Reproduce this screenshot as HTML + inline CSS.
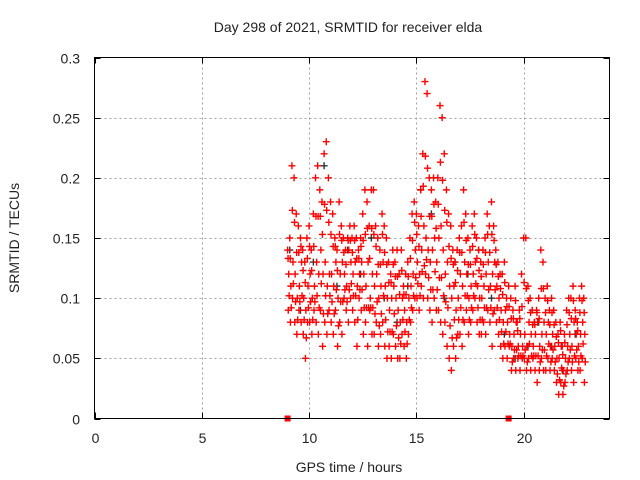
<!DOCTYPE html>
<html><head><meta charset="utf-8"><style>
html,body{margin:0;padding:0;background:#fff;}
svg{display:block;font-family:"Liberation Sans",sans-serif;}
</style></head><body>
<svg id="chart" width="640" height="480" xmlns="http://www.w3.org/2000/svg">
<rect width="640" height="480" fill="#fff"/>
<text x="348" y="32" font-size="14" text-anchor="middle" fill="#222">Day 298 of 2021, SRMTID for receiver elda</text>
<text x="349" y="472" font-size="14" text-anchor="middle" fill="#222">GPS time / hours</text>
<text transform="translate(19,238) rotate(-90)" font-size="14" text-anchor="middle" fill="#222">SRMTID / TECUs</text>
<g id="grid"></g><g id="ticks"></g><g id="marks"></g>
<rect x="94.5" y="57.5" width="515" height="361" fill="none" stroke="#000" stroke-width="1"/>
</svg>
<script>
const xTicks=[0,5,10,15,20];
const yTicks=[0,0.05,0.1,0.15,0.2,0.25,0.3];
const yTickLabels=["0","0.05","0.1","0.15","0.2","0.25","0.3"];
const times=[9.0,9.1,9.2,9.3,9.4,9.5,9.6,9.7,9.8,9.9,10.0,10.1,10.2,10.3,10.4,10.5,10.6,10.7,10.8,10.9,11.0,11.1,11.2,11.3,11.4,11.5,11.6,11.7,11.8,11.9,12.0,12.1,12.2,12.3,12.4,12.5,12.6,12.7,12.8,12.9,13.0,13.1,13.2,13.3,13.4,13.5,13.6,13.7,13.8,13.9,14.0,14.1,14.2,14.3,14.4,14.5,14.6,14.7,14.8,14.9,15.0,15.1,15.2,15.3,15.4,15.5,15.6,15.7,15.8,15.9,16.0,16.1,16.2,16.3,16.4,16.5,16.6,16.7,16.8,16.9,17.0,17.1,17.2,17.3,17.4,17.5,17.6,17.7,17.8,17.9,18.0,18.1,18.2,18.3,18.4,18.5,18.6,18.7,18.8,18.9,19.0,19.1,19.2,19.3,19.4,19.5,19.6,19.7,19.8,19.9,20.0,20.1,20.2,20.3,20.4,20.5,20.6,20.7,20.8,20.9,21.0,21.1,21.2,21.3,21.4,21.5,21.6,21.7,21.8,21.9,22.0,22.1,22.2,22.3,22.4,22.5,22.6,22.7,22.8];
const srmtidHigh=[.14,.15,.21,.2,.17,.16,.15,.14,.13,.15, .16,.14,.17,.2,.21,.19,.18,.22,.23,.2, .18,.17,.15,.14,.18,.16,.15,.14,.15,.16, .15,.16,.15,.14,.15,.17,.19,.18,.16,.19, .19,.16,.15,.14,.17,.16,.15,.13,.12,.14, .13,.14,.12,.14,.11,.12,.13,.15,.17,.18, .17,.16,.19,.22,.28,.27,.2,.19,.2,.18, .2,.26,.25,.22,.19,.17,.16,.14,.13,.14, .15,.16,.19,.17,.15,.14,.16,.17,.15,.14, .13,.14,.15,.17,.16,.18,.16,.14,.13,.12, .12,.13,.1,.11,.1,.09,.11,.08,.09,.12, .15,.15,.11,.1,.09,.08,.09,.1,.14,.13, .1,.11,.09,.1,.09,.08,.07,.08,.06,.07, .09,.1,.1,.11,.09,.08,.1,.11,.1];
const srmtidMid=[.12,.11,.13,.12,.1,.11,.13,.1,.09,.11, .12,.1,.11,.13,.12,.14,.12,.13,.11,.12, .12,.11,.13,.1,.12,.13,.12,.11,.14,.13, .12,.13,.11,.12,.13,.12,.11,.13,.1,.12, .11,.12,.1,.11,.13,.11,.1,.09,.1,.11, .1,.09,.08,.1,.09,.08,.1,.11,.12,.14, .13,.12,.14,.16,.15,.14,.13,.14,.15,.13, .15,.16,.14,.12,.13,.11,.1,.11,.09,.1, .12,.11,.13,.12,.1,.11,.12,.13,.11,.1, .1,.11,.12,.13,.11,.12,.13,.11,.1,.09, .08,.09,.08,.07,.06,.07,.08,.06,.07,.06, .07,.06,.08,.07,.06,.07,.08,.06,.07,.08, .07,.08,.06,.07,.06,.05,.05,.06,.04,.05, .06,.07,.06,.08,.07,.06,.07,.08,.07];
const srmtidLow=[.09,.08,.1,.08,.07,.09,.08,.07,.05,.08, .08,.07,.09,.08,.07,.09,.06,.08,.07,.09, .08,.07,.09,.06,.08,.07,.1,.09,.08,.1, .09,.08,.06,.1,.09,.07,.08,.06,.09,.07, .07,.08,.06,.07,.08,.06,.05,.06,.05,.07, .06,.05,.05,.07,.06,.05,.07,.08,.09,.1, .1,.09,.11,.1,.12,.1,.09,.08,.1,.09, .09,.08,.07,.08,.06,.05,.04,.06,.05,.07, .07,.06,.08,.09,.07,.08,.09,.1,.08,.07, .07,.08,.07,.09,.08,.06,.09,.08,.07,.06, .05,.06,.05,.06,.04,.05,.04,.05,.04,.05, .05,.04,.05,.04,.05,.04,.03,.04,.05,.04, .04,.05,.04,.05,.04,.03,.02,.03,.02,.03, .04,.05,.04,.03,.05,.04,.04,.05,.03];
const grayTimes=[9.1,9.6,10.2,10.7,11.3,11.8,12.4,12.9,13.5,14.1,14.6,15.2,15.7,16.3,16.8,17.4,17.9,18.5,19.1,19.6,20.2,20.7,21.3,21.8,22.4];
const grayValues=[.14,.09,.13,.21,.11,.14,.12,.15,.1,.08,.11,.19,.17,.1,.13,.12,.14,.1,.07,.05,.06,.08,.06,.04,.07];
const gapTimes=[9.0,19.3];

const X0=94.5,X1=609.5,Y0=418.5,Y1=57.5;
const xs=v=>X0+(v/24)*(X1-X0);
const ys=v=>Y0-(v/0.3)*(Y0-Y1);
const NS="http://www.w3.org/2000/svg";
function mk(tag,attrs,parent){const e=document.createElementNS(NS,tag);for(const k in attrs)e.setAttribute(k,attrs[k]);parent.appendChild(e);return e;}
const grid=document.getElementById('grid'),ticks=document.getElementById('ticks'),marks=document.getElementById('marks');
xTicks.forEach(t=>{const x=Math.round(xs(t))+0.5;
 if(t>0){const g=mk('line',{x1:x,x2:x,y1:Y1,y2:Y0,stroke:'#a0a0a0','stroke-dasharray':'2,3'},grid);
 
 }
 const tk=mk('path',{d:`M${x},${Y0}v-6M${x},${Y1}v6`,stroke:'#000'},ticks);
 
 
 const l=mk('text',{x:x,y:443,'font-size':14,'text-anchor':'middle',fill:'#222'},ticks);l.textContent=t;
 
 });
yTicks.forEach((t,i)=>{const y=Math.round(ys(t))+0.5;
 if(i>0&&i<yTicks.length-1){const g=mk('line',{x1:X0,x2:X1,y1:y,y2:y,stroke:'#a0a0a0','stroke-dasharray':'2,3'},grid);
 
 }
 const tk=mk('path',{d:`M${X0},${y}h6M${X1},${y}h-6`,stroke:'#000'},ticks);
 
 
 const l=mk('text',{x:80,y:y+5,'font-size':14,'text-anchor':'end',fill:'#222'},ticks);l.textContent=yTickLabels[i];
 
 });
function plus(t,v,col,name){const x=xs(t),y=ys(v);
 const p=mk('path',{d:`M${x-3.5},${y}h7M${x},${y-3.5}v7`,stroke:col,'stroke-width':1.4},marks);
 
 }
grayTimes.forEach((t,i)=>plus(t,grayValues[i],'#333','point-gray'));
times.forEach((t,i)=>{
 plus(t,srmtidHigh[i],'#f00','point-high');
 plus(t+0.02,(srmtidHigh[i]+srmtidMid[i])/2+0.003,'#f00','point-upper-mid');
 plus(t+0.05,srmtidMid[i],'#f00','point-mid');
 plus(t+0.03,srmtidLow[i],'#f00','point-low');
 plus(t+0.07,(srmtidMid[i]+srmtidLow[i])/2-0.003,'#f00','point-between');
});
gapTimes.forEach(t=>{const r=mk('rect',{x:xs(t)-3,y:Y0-3,width:6,height:6,fill:'#f00'},marks);
 
 });
</script>
</body></html>
